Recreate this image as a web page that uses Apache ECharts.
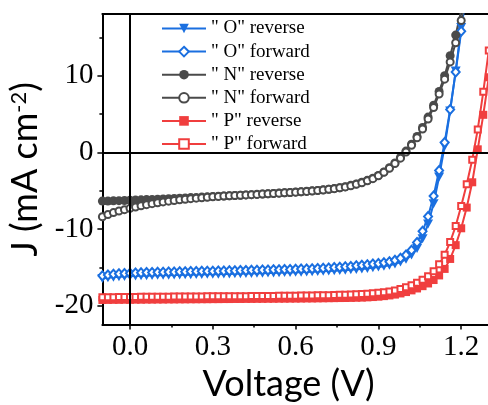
<!DOCTYPE html>
<html><head><meta charset="utf-8">
<script src="https://cdn.jsdelivr.net/npm/echarts@6/dist/echarts.min.js"></script>
<style>html,body{margin:0;padding:0;background:#fff}#c{width:488px;height:405px}</style>
</head><body><div id="c"></div>
<script>
// Voltage grid (V)
const voltage = [-0.10,-0.08,-0.06,-0.04,-0.02,0.00,0.02,0.04,0.06,0.08,0.10,0.12,0.14,0.16,0.18,0.20,0.22,0.24,0.26,0.28,0.30,0.32,0.34,0.36,0.38,0.40,0.42,0.44,0.46,0.48,0.50,0.52,0.54,0.56,0.58,0.60,0.62,0.64,0.66,0.68,0.70,0.72,0.74,0.76,0.78,0.80,0.82,0.84,0.86,0.88,0.90,0.92,0.94,0.96,0.98,1.00,1.02,1.04,1.06,1.08,1.10,1.12,1.14,1.16,1.18,1.20,1.22,1.24,1.26,1.28,1.30,1.32];

// "O" (blue)
const oReverse = [-16.45,-16.35,-16.28,-16.22,-16.18,-16.15,-16.12,-16.10,-16.08,-16.06,-16.04,-16.03,-16.01,-16.00,-15.98,-15.97,-15.95,-15.94,-15.92,-15.91,-15.89,-15.88,-15.86,-15.85,-15.83,-15.82,-15.80,-15.79,-15.77,-15.75,-15.74,-15.72,-15.70,-15.68,-15.66,-15.64,-15.62,-15.60,-15.57,-15.54,-15.51,-15.48,-15.44,-15.40,-15.36,-15.31,-15.26,-15.20,-15.13,-15.05,-14.96,-14.85,-14.72,-14.55,-14.30,-13.95,-13.40,-12.55,-11.25,-9.35,-6.70,-3.20,0.80,5.40,10.60,16.30,22.20];
const oForward = [-16.10,-15.98,-15.90,-15.84,-15.79,-15.75,-15.72,-15.70,-15.68,-15.66,-15.64,-15.63,-15.61,-15.60,-15.58,-15.57,-15.55,-15.54,-15.52,-15.51,-15.49,-15.48,-15.46,-15.45,-15.43,-15.42,-15.40,-15.39,-15.37,-15.35,-15.34,-15.32,-15.30,-15.28,-15.26,-15.24,-15.22,-15.20,-15.17,-15.14,-15.11,-15.07,-15.03,-14.98,-14.93,-14.87,-14.80,-14.73,-14.65,-14.57,-14.48,-14.38,-14.25,-14.07,-13.80,-13.40,-12.75,-11.75,-10.30,-8.35,-5.70,-2.35,1.30,5.60,10.50,15.80,21.50];

// "N" (gray)
const nReverse = [-6.35,-6.34,-6.32,-6.30,-6.28,-6.25,-6.22,-6.19,-6.16,-6.13,-6.10,-6.07,-6.04,-6.01,-5.97,-5.94,-5.90,-5.87,-5.83,-5.80,-5.76,-5.73,-5.69,-5.66,-5.62,-5.59,-5.55,-5.51,-5.47,-5.43,-5.39,-5.35,-5.31,-5.27,-5.23,-5.18,-5.13,-5.08,-5.02,-4.96,-4.89,-4.81,-4.72,-4.61,-4.48,-4.30,-4.11,-3.90,-3.65,-3.36,-3.00,-2.55,-2.00,-1.37,-0.65,0.17,1.06,2.07,3.25,4.60,6.15,7.95,10.00,12.60,15.30,18.50,22.00];
const nForward = [-8.40,-8.10,-7.85,-7.65,-7.47,-7.30,-7.12,-6.96,-6.82,-6.69,-6.57,-6.46,-6.36,-6.27,-6.19,-6.11,-6.04,-5.97,-5.91,-5.85,-5.79,-5.74,-5.70,-5.66,-5.62,-5.59,-5.55,-5.51,-5.48,-5.44,-5.40,-5.36,-5.32,-5.28,-5.24,-5.19,-5.14,-5.09,-5.03,-4.97,-4.90,-4.82,-4.73,-4.62,-4.50,-4.35,-4.17,-3.96,-3.71,-3.43,-3.05,-2.60,-2.07,-1.45,-0.75,0.05,0.92,1.90,3.05,4.35,5.85,7.60,9.55,11.80,14.30,17.20,20.50];

// "P" (red)
const pReverse = [-19.25,-19.24,-19.23,-19.23,-19.22,-19.22,-19.21,-19.21,-19.20,-19.20,-19.19,-19.19,-19.18,-19.18,-19.17,-19.17,-19.16,-19.16,-19.15,-19.15,-19.14,-19.14,-19.13,-19.13,-19.12,-19.12,-19.11,-19.11,-19.10,-19.10,-19.09,-19.09,-19.08,-19.08,-19.07,-19.07,-19.06,-19.05,-19.05,-19.04,-19.03,-19.02,-19.01,-19.00,-18.99,-18.98,-18.96,-18.94,-18.91,-18.87,-18.82,-18.75,-18.66,-18.55,-18.40,-18.22,-18.00,-17.75,-17.45,-17.10,-16.65,-16.05,-15.20,-13.90,-12.10,-9.90,-7.20,-3.90,0.40,4.90,9.80,15.50];
const pForward = [-18.90,-18.89,-18.88,-18.87,-18.86,-18.85,-18.85,-18.84,-18.84,-18.83,-18.83,-18.82,-18.82,-18.81,-18.81,-18.80,-18.80,-18.79,-18.79,-18.78,-18.78,-18.77,-18.77,-18.76,-18.76,-18.75,-18.75,-18.74,-18.74,-18.73,-18.72,-18.72,-18.71,-18.70,-18.70,-18.69,-18.68,-18.67,-18.66,-18.65,-18.64,-18.62,-18.60,-18.58,-18.56,-18.53,-18.50,-18.47,-18.43,-18.38,-18.31,-18.23,-18.13,-18.00,-17.82,-17.58,-17.33,-17.00,-16.60,-16.15,-15.50,-14.60,-13.35,-11.70,-9.60,-7.00,-4.15,-0.95,3.00,7.90,13.30,19.80];

const seriesNames = ['" O" reverse', '" O" forward', '" N" reverse', '" N" forward', '" P" reverse', '" P" forward'];

// Axis ticks
const xTicks = [0, 0.3, 0.6, 0.9, 1.2];
const xMinorTicks = [0.15, 0.45, 0.75, 1.05];
const yTicks = [-20, -10, 0, 10];
const yMinorTicks = [-15, -5, 5, 15];

const BLUE = '#1a6fe0', GRAY = '#4a4a4a', RED = '#f03e3e';
const downTri = 'path://M0,0L10,0L5,9Z';
const SERIF = 'Liberation Serif';
const SANS = 'Lato';

function pairs(js) { return js.map((j, i) => [voltage[i], j]); }
function mk(name, data, color, symbol, size, open) {
  return {
    name, type: 'line', data: pairs(data), xAxisIndex: 0, yAxisIndex: 0,
    symbol, symbolSize: size, showAllSymbol: true, clip: true,
    lineStyle: { color, width: 2 },
    itemStyle: open ? { color: '#fff', borderColor: color, borderWidth: 2 } : { color, borderWidth: 0 },
    emphasis: { disabled: true }, animation: false
  };
}

const xMin = -0.1, xMax = 1.3, yMin = -22.45, yMax = 18.05;
const series = [
  mk(seriesNames[0], oReverse, BLUE, downTri, [10, 9], false),
  mk(seriesNames[1], oForward, BLUE, 'diamond', [8, 9], true),
  mk(seriesNames[2], nReverse, GRAY, 'circle', 9, false),
  mk(seriesNames[3], nForward, GRAY, 'circle', 7, true),
  mk(seriesNames[4], pReverse, RED, 'rect', 8, false),
  mk(seriesNames[5], pForward, RED, 'rect', 6, true)
];
series[5].markLine = {
  silent: true, symbol: ['none', 'none'], label: { show: false }, animation: false,
  lineStyle: { color: '#000', width: 2, type: 'solid' },
  emphasis: { disabled: true },
  data: [{ xAxis: 0 }, { yAxis: 0 }]
};

const chart = echarts.init(document.getElementById('c'), null, { renderer: 'canvas' });
chart.setOption({
  animation: false,
  backgroundColor: '#fff',
  grid: { left: 102.4, top: 14, width: 386.4, height: 310.5, containLabel: false, outerBoundsMode: 'none' },
  legend: {
    orient: 'vertical', left: 161, top: 19, padding: 0, itemWidth: 44, itemHeight: 12, itemGap: 4.1,
    selectedMode: false, data: seriesNames,
    textStyle: { fontFamily: SERIF, fontSize: 19, color: '#000' }
  },
  xAxis: [
    {
      type: 'value', min: xMin, max: xMax, position: 'bottom',
      axisLine: { show: true, onZero: false, lineStyle: { color: '#000', width: 2 } },
      axisTick: { show: true, inside: false, length: 5, customValues: xTicks, lineStyle: { color: '#000', width: 1.5 } },
      axisLabel: { customValues: xTicks, formatter: v => v.toFixed(1), fontFamily: SERIF, fontSize: 29, color: '#000', margin: 8 },
      splitLine: { show: false },
      name: 'Voltage (V)', nameLocation: 'middle', nameGap: 37,
      nameTextStyle: { fontFamily: SANS, fontSize: 36, color: '#000', padding: [0, 14, 0, 0] }
    },
    {
      type: 'value', min: xMin, max: xMax, position: 'bottom',
      axisLine: { show: false, onZero: false },
      axisTick: { show: true, length: 3, customValues: xMinorTicks, lineStyle: { color: '#000', width: 1.5 } },
      axisLabel: { show: false }, splitLine: { show: false }
    },
    {
      type: 'value', min: xMin, max: xMax, position: 'top',
      axisLine: { show: true, onZero: false, lineStyle: { color: '#000', width: 2 } },
      axisTick: { show: false }, axisLabel: { show: false }, splitLine: { show: false }
    }
  ],
  yAxis: [
    {
      type: 'value', min: yMin, max: yMax, position: 'left',
      axisLine: { show: true, onZero: false, lineStyle: { color: '#000', width: 2 } },
      axisTick: { show: true, length: 5, customValues: yTicks, lineStyle: { color: '#000', width: 1.5 } },
      axisLabel: { customValues: yTicks, fontFamily: SERIF, fontSize: 29, color: '#000', margin: 9 },
      splitLine: { show: false },
      name: 'J (mA cm{sup|-2})', nameLocation: 'middle', nameGap: 54,
      nameTextStyle: {
        fontFamily: SANS, fontSize: 36, color: '#000',
        rich: { sup: { fontFamily: SANS, fontSize: 22, color: '#000', verticalAlign: 'top' } }
      }
    },
    {
      type: 'value', min: yMin, max: yMax, position: 'left',
      axisLine: { show: false, onZero: false },
      axisTick: { show: true, length: 3, customValues: yMinorTicks, lineStyle: { color: '#000', width: 1.5 } },
      axisLabel: { show: false }, splitLine: { show: false }
    }
  ],
  series
});
</script>
</body></html>
